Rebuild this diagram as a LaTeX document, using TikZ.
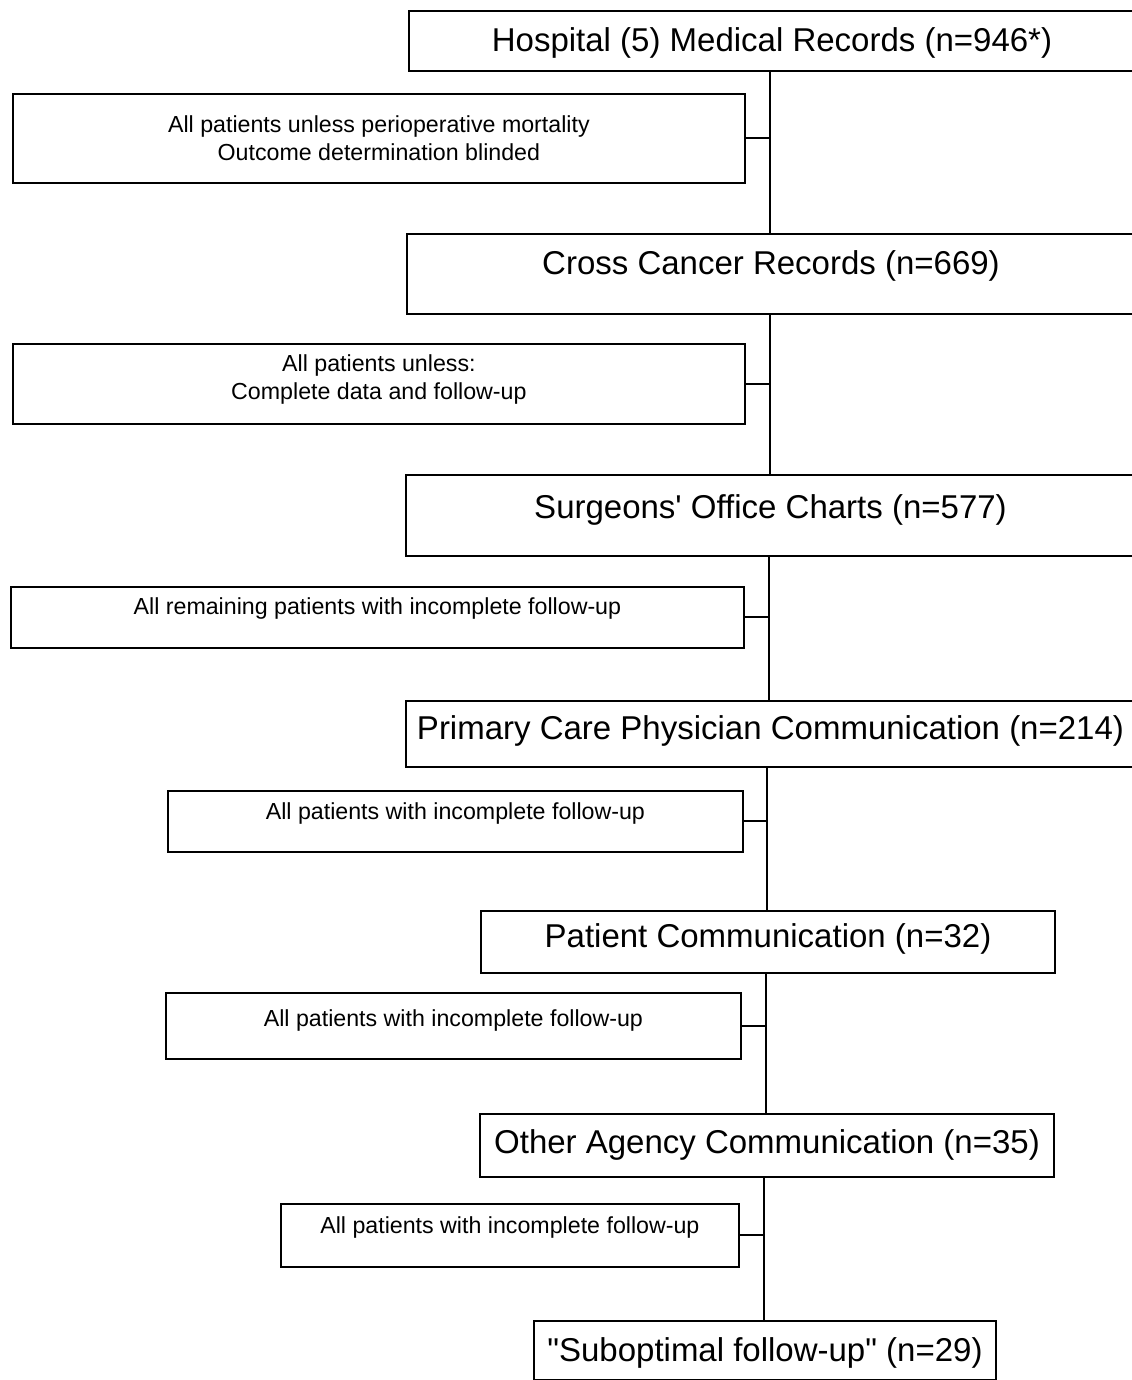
\documentclass[tikz,border=0pt]{standalone}
\usepackage{fontspec}
\setmainfont{Liberation Sans}[Ligatures=TeXOff]
\usetikzlibrary{calc}
\begin{document}
\begin{tikzpicture}[x=0.5pt,y=-0.5pt,
  mainbox/.style={draw, line width=1pt, inner sep=0pt, anchor=north west},
  sidebox/.style={draw, line width=0.9pt, inner sep=0pt, anchor=north west},
  maintext/.style={font=\fontsize{16.5}{20}\selectfont, inner sep=0pt},
  sidetext/.style={font=\fontsize{11.6}{14}\selectfont, align=center, inner sep=0pt},
  vline/.style={line width=0.8pt},
  hline/.style={line width=1pt}]
\useasboundingbox (0,0) rectangle (1131,1380);

% main boxes
\node[mainbox, minimum width=363pt, minimum height=30pt] (b1) at (408,10) {};
\node[mainbox, minimum width=364pt, minimum height=40pt] (b2) at (406,233) {};
\node[mainbox, minimum width=364.5pt, minimum height=40.5pt] (b3) at (405,474) {};
\node[mainbox, minimum width=364.5pt, minimum height=33pt] (b4) at (405,700) {};
\node[mainbox, minimum width=287pt, minimum height=31pt] (b5) at (480,910) {};
\node[mainbox, minimum width=287pt, minimum height=31.5pt] (b6) at (479,1113) {};
\node[mainbox, minimum width=231pt, minimum height=29.5pt] (b7) at (533,1320) {};

% side boxes
\node[sidebox, minimum width=366pt, minimum height=44.5pt] (s1) at (12,93) {};
\node[sidebox, minimum width=366pt, minimum height=40pt] (s2) at (12,343) {};
\node[sidebox, minimum width=366.5pt, minimum height=30.5pt] (s3) at (10,586) {};
\node[sidebox, minimum width=287.5pt, minimum height=30.5pt] (s4) at (167,790) {};
\node[sidebox, minimum width=287.5pt, minimum height=33pt] (s5) at (165,992) {};
\node[sidebox, minimum width=229pt, minimum height=31.5pt] (s6) at (280,1203) {};

% main texts
\node[maintext] (t1) at ($(b1.center)+(0,2)$) {Hospital (5) Medical Records (n=946*)};
\node[maintext] (t2) at ($(b2.center)+(0,-8)$) {Cross Cancer Records (n=669)};
\node[maintext] (t3) at ($(b3.center)+(0,-6)$) {Surgeons' Office Charts (n=577)};
\node[maintext] (t4) at ($(b4.center)+(0,-3)$) {Primary Care Physician Communication (n=214)};
\node[maintext] (t5) at ($(b5.center)+(0,-3)$) {Patient Communication (n=32)};
\node[maintext] (t6) at ($(b6.center)+(0,-1)$) {Other Agency Communication (n=35)};
\node[maintext] (t7) at ($(b7.center)+(0,2)$) {"Suboptimal follow-up" (n=29)};

% side texts
\node[sidetext] (u1) at ($(s1.center)+(0,0)$) {All patients unless perioperative mortality\\Outcome determination blinded};
\node[sidetext] (u2) at ($(s2.center)+(0,-4)$) {All patients unless:\\Complete data and follow-up};
\node[sidetext] (u3) at ($(s3.center)+(0,-9)$) {All remaining patients with incomplete follow-up};
\node[sidetext] (u4) at ($(s4.center)+(0,-8)$) {All patients with incomplete follow-up};
\node[sidetext] (u5) at ($(s5.center)+(0,-5)$) {All patients with incomplete follow-up};
\node[sidetext] (u6) at ($(s6.center)+(0,-8)$) {All patients with incomplete follow-up};

% trunk line positions
\coordinate (v1) at (770,0);
\coordinate (v2) at (770,0);
\coordinate (v3) at (769,0);
\coordinate (v4) at (767,0);
\coordinate (v5) at (766,0);
\coordinate (v6) at (764,0);

\draw[vline] (b1.south -| v1) -- (b2.north -| v1);
\draw[vline] (b2.south -| v2) -- (b3.north -| v2);
\draw[vline] (b3.south -| v3) -- (b4.north -| v3);
\draw[vline] (b4.south -| v4) -- (b5.north -| v4);
\draw[vline] (b5.south -| v5) -- (b6.north -| v5);
\draw[vline] (b6.south -| v6) -- (b7.north -| v6);

% side connectors
\draw[hline] (s1.east) -- (s1.east -| v1);
\draw[hline] (s2.east) -- (s2.east -| v2);
\draw[hline] (s3.east) -- (s3.east -| v3);
\draw[hline] (s4.east) -- (s4.east -| v4);
\draw[hline] (s5.east) -- (s5.east -| v5);
\draw[hline] (s6.east) -- (s6.east -| v6);
\end{tikzpicture}
\end{document}
